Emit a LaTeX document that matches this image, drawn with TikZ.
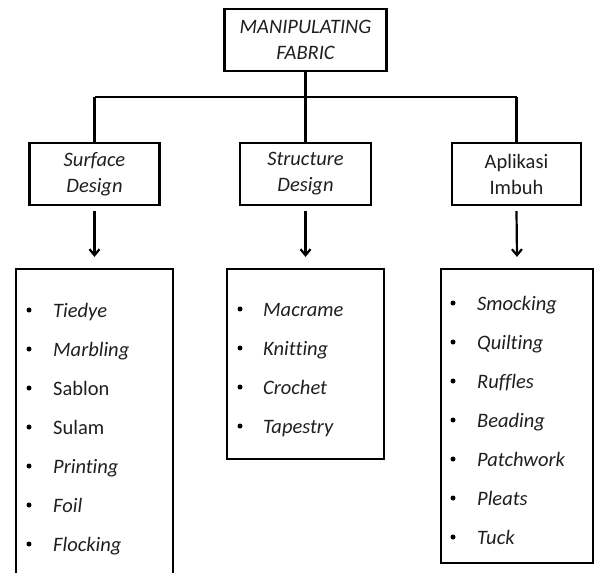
\documentclass[tikz,border=0pt]{standalone}
\usepackage{fontspec}
\setmainfont{Carlito}[Ligatures=CommonOff]
\usetikzlibrary{arrows.meta}
\begin{document}
\begin{tikzpicture}[x=1pt,y=-1pt,
  headbox/.style={draw, line width=2.2pt, minimum width=#1, minimum height=62pt,
    inner sep=0pt, align=center, font=\fontsize{20.5}{26}\selectfont, text=black!88},
  listbox/.style={draw, line width=2.2pt, inner sep=0pt},
  itemtext/.style={anchor=base west, inner sep=0pt, font=\fontsize{20.5}{24}\selectfont, text=black!88},
  bulletdot/.style={circle, fill=black, inner sep=0pt, minimum size=5pt},
  conn/.style={line width=2.2pt},
  arr/.style={conn, -{Straight Barb[length=6pt,width=10pt]}}]

\useasboundingbox (0,0) rectangle (595,573);

% header boxes
\node[headbox=162pt] (top) at (305.5,40) {\itshape MANIPULATING\\\itshape FABRIC};
\node[headbox=130pt] (surf) at (94.5,174) {\itshape Surface\\\itshape Design};
\node[headbox=131pt] (struct) at (305.5,174) {\itshape Structure\\\itshape Design};
\node[headbox=129pt] (apl) at (516.5,174) {Aplikasi\\Imbuh};

% list boxes
\node[listbox, minimum width=157pt, minimum height=311pt] (list1) at (94.5,424.5) {};
\node[listbox, minimum width=157pt, minimum height=190pt] (list2) at (305.5,364) {};
\node[listbox, minimum width=152pt, minimum height=294pt] (list3) at (517,416) {};

% tree connectors
\coordinate (jL) at (surf.north |- 0,97);
\coordinate (jR) at (apl.north |- 0,97);
\draw[conn] (top.south) -- (struct.north);
\draw[conn] (jL) -- (jR);
\draw[conn] (jL) -- (surf.north);
\draw[conn] (jR) -- (apl.north);

% arrows
\draw[arr] ([yshift=-5pt]surf.south) -- ([yshift=11pt]list1.north);
\draw[arr] ([yshift=-5pt]struct.south) -- ([yshift=11pt]list2.north);
\draw[arr] ([yshift=-5pt]apl.south) -- ([yshift=11pt]list3.north);

% list items
\foreach \t [count=\i] in {\textit{Tiedye},\textit{Marbling},Sablon,Sulam,\textit{Printing},\textit{Foil},\textit{Flocking}} {
  \node[bulletdot] (ba\i) at (29,{278+39*\i-7}) {};
  \node[itemtext] (ta\i) at (53,{278+39*\i}) {\t};
}
\foreach \t [count=\i] in {Macrame,Knitting,Crochet,Tapestry} {
  \node[bulletdot] (bb\i) at (240,{277+39*\i-7}) {};
  \node[itemtext] (tb\i) at (263,{277+39*\i}) {\textit{\t}};
}
\foreach \t [count=\i] in {Smocking,Quilting,Ruffles,Beading,Patchwork,Pleats,Tuck} {
  \node[bulletdot] (bc\i) at (453,{271+39*\i-7}) {};
  \node[itemtext] (tc\i) at (477,{271+39*\i}) {\textit{\t}};
}
\end{tikzpicture}
\end{document}
